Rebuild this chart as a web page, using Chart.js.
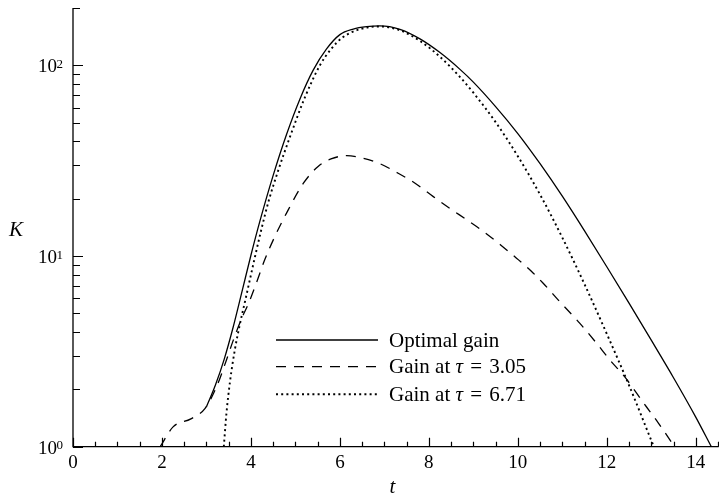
<!DOCTYPE html>
<html><head><meta charset="utf-8">
<script src="https://cdn.jsdelivr.net/npm/chart.js@4"></script>
<style>html,body{margin:0;padding:0;background:#fff}canvas{display:block}</style>
</head><body>
<canvas id="c" width="719" height="498"></canvas>
<script>
// ---- data ----
const optimalT = [3.0,3.2,3.4,3.6,3.8,4.0,4.2,4.5,4.8,5.1,5.4,5.7,6.0,6.3,6.6,6.9,7.35,7.8,8.25,8.7,9.0,9.5,10.0,10.5,11.0,11.5,12.0,12.5,13.0,13.5,14.0,14.35];
const optimalK = [1.62,2.10,2.88,4.23,6.52,10.1,15.2,26.5,43.4,66.5,94.4,122,145,155,159.6,161,154.5,137.7,116.7,95.3,81.7,60.8,43.9,30.5,20.6,13.55,8.79,5.66,3.62,2.30,1.43,1.0];

const gain305T = [1.96,2.25,2.65,2.97,3.23,3.45,3.6,3.79,3.94,4.12,4.31,4.54,4.8,5.18,5.51,5.8,6.15,6.52,6.9,7.31,7.69,8.1,8.47,8.85,9.22,9.6,9.97,10.31,10.57,10.94,11.39,11.77,12.07,12.4,12.67,12.89,13.16,13.45,13.52];
const gain305K = [1.0,1.27,1.4,1.59,2.07,2.85,3.6,4.7,5.6,7.2,9.55,12.7,16.8,24.1,29.5,32.3,33.6,32.6,30.5,27.2,24.1,20.5,17.8,15.5,13.5,11.5,9.75,8.3,7.2,5.77,4.45,3.49,2.85,2.33,1.91,1.62,1.33,1.06,1.0];

const gain671T = [3.39,3.45,3.53,3.64,3.75,3.87,3.98,4.09,4.24,4.4,4.6,4.9,5.2,5.55,5.8,6.05,6.5,6.9,7.35,7.8,8.25,8.7,9.0,9.5,10.0,10.5,11.0,11.5,12.0,12.5,13.0,13.06];
const gain671K = [1.0,1.5,2.2,3.24,4.37,5.82,7.59,9.89,13.96,19.5,27.5,43.6,66.8,100,121.6,139.6,156,160,152.8,134.3,110.9,86.9,71.9,50.4,33.4,21.0,12.5,7.11,3.91,2.10,1.08,1.0];

const seriesNames = ['Optimal gain', 'Gain at τ = 3.05', 'Gain at τ = 6.71'];
const xTickValues = [0,2,4,6,8,10,12,14];
const yTickValues = [1,10,100];
const yTickExponents = ['0','1','2'];
const xRange = [0, 14.5];
const yRange = [1, 200];
const xTitle = 't';
const yTitle = 'K';

const SERIF = '"Liberation Serif", "DejaVu Serif", serif';

function pts(t, k){ return t.map((v,i)=>({x:v, y:k[i]})); }

const styles = [
  {borderDash: [], lineWidth: 1.3},
  {borderDash: [10, 8], lineWidth: 1.3},
  {borderDash: [2, 3.2], lineWidth: 1.9}
];

const decoPlugin = {
  id: 'deco',
  afterDraw(chart){
    const ctx = chart.ctx, xs = chart.scales.x, ys = chart.scales.y, ca = chart.chartArea;
    ctx.save();
    ctx.strokeStyle = '#000'; ctx.fillStyle = '#000'; ctx.lineWidth = 1.3; ctx.setLineDash([]);
    // axis lines
    ctx.beginPath();
    ctx.moveTo(ca.left, ca.top); ctx.lineTo(ca.left, ca.bottom); ctx.lineTo(ca.right + 0.7, ca.bottom);
    ctx.stroke();
    // x ticks (inward)
    ctx.lineWidth = 1.2;
    ctx.beginPath();
    for (let i = 0; i <= Math.round((xRange[1]-xRange[0])/0.5); i++){
      const v = xRange[0] + i*0.5;
      const px = Math.round(xs.getPixelForValue(v)) + 0.5;
      const len = xTickValues.includes(v) ? 9 : 5;
      ctx.moveTo(px, ca.bottom); ctx.lineTo(px, ca.bottom - len);
    }
    // y ticks (inward)
    for (const d of yTickValues){
      for (let m = 1; m <= 9; m++){
        const v = m*d; if (v > yRange[1] + 1e-9) break;
        const py = Math.round(ys.getPixelForValue(v)) + 0.5;
        const len = m === 1 ? 10 : 7;
        ctx.moveTo(ca.left, py); ctx.lineTo(ca.left + len, py);
      }
    }
    ctx.stroke();
    // y tick labels 10^n
    yTickValues.forEach((v, i) => {
      const py = ys.getPixelForValue(v);
      ctx.font = '13px ' + SERIF;
      const ew = ctx.measureText(yTickExponents[i]).width;
      const right = ca.left - 10;
      ctx.textAlign = 'right'; ctx.textBaseline = 'alphabetic';
      ctx.fillText(yTickExponents[i], right, py + 2.5);
      ctx.font = '19px ' + SERIF;
      ctx.fillText('10', right - ew + 0.5, py + 7);
    });
    // axis titles
    ctx.font = 'italic 21px ' + SERIF;
    ctx.textAlign = 'center'; ctx.textBaseline = 'middle';
    ctx.fillText(yTitle, 16, 230);
    ctx.fillText(xTitle, (ca.left + ca.right)/2 - 3, 487);
    // legend
    const lx0 = 276, lx1 = 378, tx = 389;
    const rows = [340, 366.7, 394.3];
    chart.data.datasets.forEach((ds, i) => {
      const y = rows[i];
      ctx.save();
      ctx.lineWidth = ds.borderWidth;
      ctx.setLineDash(ds.borderDash || []);
      ctx.beginPath(); ctx.moveTo(lx0, y); ctx.lineTo(lx1, y); ctx.stroke();
      ctx.restore();
      ctx.textAlign = 'left'; ctx.textBaseline = 'middle';
      const parts = seriesNames[i].split('τ');
      let x = tx;
      const yy = y + 1;
      ctx.font = '21px ' + SERIF;
      ctx.fillText(parts[0], x, yy); x += ctx.measureText(parts[0]).width;
      if (parts.length > 1){
        ctx.font = 'italic 21px ' + SERIF;
        ctx.fillText('τ', x, yy); x += ctx.measureText('τ').width + 2;
        ctx.font = '21px ' + SERIF;
        const rest = parts[1].trim();
        const eqIdx = rest.indexOf('=');
        const eq = rest.slice(0, eqIdx + 1), num = rest.slice(eqIdx + 1).trim();
        x += ctx.measureText(' ').width;
        ctx.fillText(eq, x, yy); x += ctx.measureText(eq).width + 2 + ctx.measureText(' ').width;
        ctx.fillText(num, x, yy);
      }
    });
    ctx.restore();
  }
};

new Chart(document.getElementById('c'), {
  type: 'line',
  data: {
    datasets: [
      {label: seriesNames[0], data: pts(optimalT, optimalK)},
      {label: seriesNames[1], data: pts(gain305T, gain305K)},
      {label: seriesNames[2], data: pts(gain671T, gain671K)}
    ].map((d, i) => Object.assign(d, {
      borderColor: '#000', backgroundColor: '#000', borderWidth: styles[i].lineWidth,
      borderDash: styles[i].borderDash, pointRadius: 0, fill: false,
      cubicInterpolationMode: 'monotone', borderCapStyle: 'butt'
    }))
  },
  options: {
    responsive: false, animation: false, devicePixelRatio: 1,
    layout: {padding: {top: 8, right: 1, left: 0, bottom: 0}},
    plugins: {legend: {display: false}, tooltip: {enabled: false}},
    scales: {
      x: {
        type: 'linear', min: xRange[0], max: xRange[1],
        grid: {display: false, drawTicks: false},
        border: {display: false},
        afterBuildTicks: s => { s.ticks = xTickValues.map(v => ({value: v})); },
        ticks: {color: '#000', font: {family: SERIF, size: 19}, padding: 5, maxRotation: 0, autoSkip: false,
                callback: v => String(v)},
        afterFit: s => { s.height = 51.3; }
      },
      y: {
        type: 'logarithmic', min: yRange[0], max: yRange[1],
        grid: {display: false, drawTicks: false},
        border: {display: false},
        ticks: {display: false},
        afterFit: s => { s.width = 73; }
      }
    }
  },
  plugins: [decoPlugin]
});
</script>
</body></html>
